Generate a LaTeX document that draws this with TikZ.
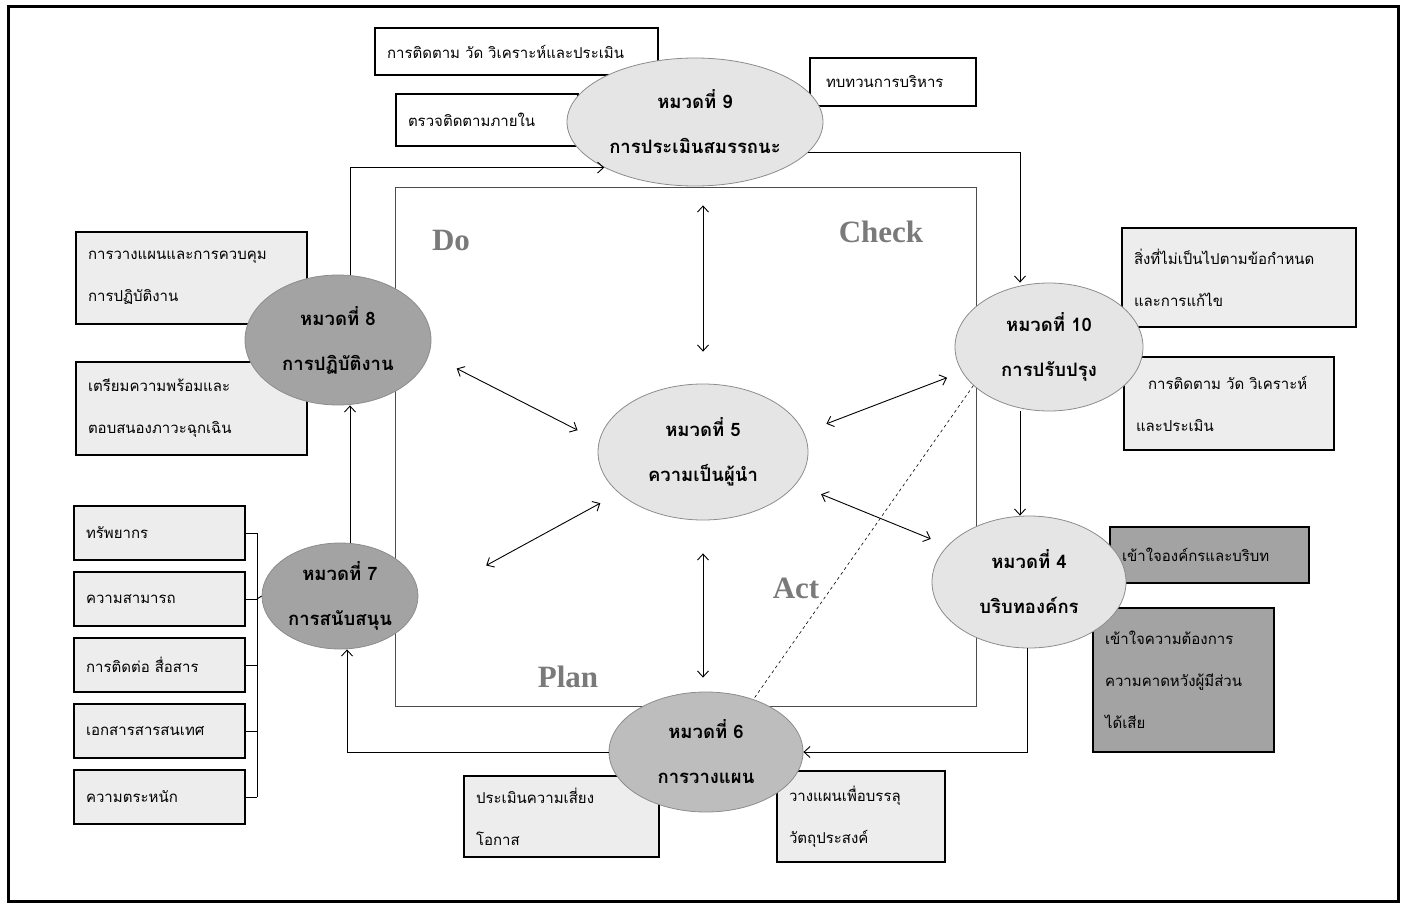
\documentclass[tikz,border=0pt]{standalone}
\usepackage{fontspec}
\setmainfont{Liberation Serif}
\newfontfamily\thai[Script=Thai]{Loma}
\usetikzlibrary{shapes.geometric, arrows.meta}

\definecolor{lightfill}{gray}{0.90}
\definecolor{midfill}{gray}{0.74}
\definecolor{darkfill}{gray}{0.64}
\definecolor{boxfill}{gray}{0.93}
\definecolor{labelgray}{gray}{0.48}

\begin{document}
\begin{tikzpicture}[x=1pt, y=-1pt, >={Straight Barb[length=6pt, width=11pt]},
    hmwd/.style={ellipse, draw=black!45, line width=0.8pt, inner sep=0pt, align=center,
        font=\thai\bfseries\fontsize{18.5}{45}\selectfont},
    tbox/.style={rectangle, draw, line width=1.1pt, inner xsep=12pt, align=left,
        font=\thai\fontsize{15}{42}\selectfont},
    pdca/.style={font=\bfseries\fontsize{31}{31}\selectfont, text=labelgray},
    flow/.style={->, line width=0.9pt},
    both/.style={<->, line width=0.9pt}]
    \useasboundingbox (0,0) rectangle (1405,910);
    \draw[line width=3pt] (8,6) rectangle (1398,901);
    \draw[line width=0.7pt, black!70] (395,187) rectangle (976,706);

    \node[tbox, fill=white, minimum width=283pt, minimum height=47pt, text width=259pt] (b9a) at (516.5,51.5) {การติดตาม วัด วิเคราะห์และประเมิน};
    \node[tbox, fill=white, minimum width=166pt, minimum height=48pt, text width=142pt] (b9b) at (893,82) {\hspace{4pt}ทบทวนการบริหาร};
    \node[tbox, fill=white, minimum width=182pt, minimum height=52pt, text width=158pt] (b9c) at (487,120) {ตรวจติดตามภายใน};

    \node[tbox, fill=boxfill, minimum width=231pt, minimum height=92pt, text width=207pt] (b8a) at (191.5,278) {การวางแผนและการควบคุม\\การปฏิบัติงาน};
    \node[tbox, fill=boxfill, minimum width=231pt, minimum height=93pt, text width=207pt] (b8b) at (191.5,408.5) {เตรียมความพร้อมและ\\ตอบสนองภาวะฉุกเฉิน};

    \foreach \t [count=\i] in {ทรัพยากร, ความสามารถ, การติดต่อ สื่อสาร, เอกสารสารสนเทศ, ความตระหนัก} {
        \pgfmathsetmacro{\y}{533 + 66*(\i - 1)}
        \node[tbox, fill=boxfill, minimum width=171pt, minimum height=54pt, text width=147pt] (s\i) at (159.5,\y) {\t};
    }

    \node[tbox, fill=boxfill, minimum width=234pt, minimum height=99pt, text width=210pt] (b10a) at (1239,277.5) {สิ่งที่ไม่เป็นไปตามข้อกำหนด\\และการแก้ไข};
    \node[tbox, fill=boxfill, minimum width=210pt, minimum height=93pt, text width=186pt] (b10b) at (1229,403.5) {\hspace{12pt}การติดตาม วัด วิเคราะห์\\และประเมิน};
    \node[tbox, fill=darkfill, minimum width=199pt, minimum height=56pt, text width=175pt] (b4a) at (1209.5,555) {เข้าใจองค์กรและบริบท};
    \node[tbox, fill=darkfill, minimum width=181pt, minimum height=144pt, text width=157pt] (b4b) at (1183.5,680) {เข้าใจความต้องการ\\ความคาดหวังผู้มีส่วน\\ได้เสีย};

    \node[tbox, fill=boxfill, minimum width=195pt, minimum height=81pt, text width=171pt] (b6a) at (561.5,816.5) {ประเมินความเสี่ยง\\โอกาส};
    \node[tbox, fill=boxfill, minimum width=168pt, minimum height=91pt, text width=144pt] (b6b) at (861,816.5) {วางแผนเพื่อบรรลุ\\วัตถุประสงค์};

    \coordinate (bus) at (257,599);
    \draw[line width=0.9pt] (s1.east -| bus) -- (s5.east -| bus);
    \foreach \i in {1,...,5} {
        \draw[line width=0.9pt] (s\i.east) -- (s\i.east -| bus);
    }

    \node[hmwd, fill=lightfill, minimum width=256pt, minimum height=128pt] (h9) at (695,122) {หมวดที่ 9\\การประเมินสมรรถนะ};
    \node[hmwd, fill=lightfill, minimum width=188pt, minimum height=128pt] (h10) at (1049,347) {หมวดที่ 10\\การปรับปรุง};
    \node[hmwd, fill=lightfill, minimum width=194pt, minimum height=132pt] (h4) at (1029,582) {หมวดที่ 4\\บริบทองค์กร};
    \node[hmwd, fill=midfill, minimum width=194pt, minimum height=120pt] (h6) at (706,752) {หมวดที่ 6\\การวางแผน};
    \node[hmwd, fill=darkfill, minimum width=156pt, minimum height=106pt] (h7) at (340,596) {หมวดที่ 7\\การสนับสนุน};
    \node[hmwd, fill=darkfill, minimum width=186pt, minimum height=130pt] (h8) at (338,340) {หมวดที่ 8\\การปฏิบัติงาน};
    \node[hmwd, fill=lightfill, minimum width=210pt, minimum height=136pt] (h5) at (703,452) {หมวดที่ 5\\ความเป็นผู้นำ};

    \draw[line width=0.9pt] (bus) -- (h7.west);

    \draw[flow] ([xshift=12pt]h8.north) |- (h9.south west);
    \draw[flow] (h9.-15) -| ([xshift=-29pt]h10.north);
    \draw[flow] ([xshift=-29pt]h10.south) -- ([xshift=-29pt]h10.south |- h4.north);
    \draw[flow] ([xshift=-2pt]h4.south) |- (h6.east);
    \draw[flow] (h6.west) -| ([xshift=7pt]h7.south);
    \draw[flow] ([xshift=10pt]h7.north) -- ([xshift=12pt]h8.south);

    \draw[both, shorten <=19pt, shorten >=32pt] (h5.north |- h9.south) -- (h5.north);
    \draw[both, shorten <=33pt, shorten >=14pt] (h5.south) -- (h5.south |- h6.north);
    \draw[both, shorten <=31pt, shorten >=24pt] (h8.-9) -- (h5.174);
    \draw[both, shorten <=78pt, shorten >=21pt] (h7.-5) -- (h5.206);
    \draw[both, shorten <=16pt, shorten >=24pt] (h10.196.5) -- (h5.11.6);
    \draw[both, shorten <=18pt, shorten >=27pt] (h4.156.8) -- (h5.-19.6);
    \draw[dashed, line width=0.6pt] (h10.207) -- (h6.48);

    \node[pdca] (do) at (451,240) {Do};
    \node[pdca] (check) at (881,232) {Check};
    \node[pdca] (act) at (796,588) {Act};
    \node[pdca] (plan) at (568,677) {Plan};
\end{tikzpicture}
\end{document}
